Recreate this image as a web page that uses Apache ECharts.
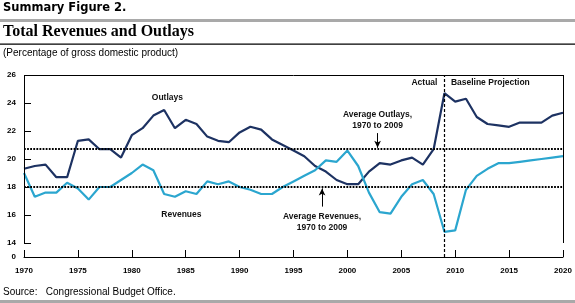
<!DOCTYPE html>
<html>
<head>
<meta charset="utf-8">
<script src="https://cdn.jsdelivr.net/npm/echarts@6/dist/echarts.min.js"></script>
<style>
  html, body { margin: 0; padding: 0; background: #fff; }
  #chart { width: 575px; height: 303px; }
</style>
</head>
<body>
<div id="chart"></div>
<script>
// 年份 与 两条序列 (占GDP百分比)
const years = [];
for (let y = 1970; y <= 2020; y++) years.push(y);
const outlays = [
  19.3, 19.5, 19.6, 18.7, 18.7, 21.3, 21.4, 20.7, 20.7, 20.1,
  21.7, 22.2, 23.1, 23.5, 22.2, 22.8, 22.5, 21.6, 21.3, 21.2,
  21.9, 22.3, 22.1, 21.4, 21.0, 20.6, 20.2, 19.5, 19.1, 18.5,
  18.2, 18.2, 19.1, 19.7, 19.6, 19.9, 20.1, 19.6, 20.7, 24.7,
  24.1, 24.3, 23.0, 22.5, 22.4, 22.3, 22.6, 22.6, 22.6, 23.1, 23.3
];
const revenues = [
  19.0, 17.3, 17.6, 17.6, 18.3, 17.9, 17.1, 18.0, 18.0, 18.5,
  19.0, 19.6, 19.2, 17.5, 17.3, 17.7, 17.5, 18.4, 18.2, 18.4,
  18.0, 17.8, 17.5, 17.5, 18.0, 18.4, 18.8, 19.2, 19.9, 19.8,
  20.6, 19.5, 17.6, 16.2, 16.1, 17.3, 18.2, 18.5, 17.5, 14.8,
  14.9, 17.8, 18.8, 19.3, 19.7, 19.7, 19.8, 19.9, 20.0, 20.1, 20.2
];
const avgOutlays = 20.7;
const avgRevenues = 18.0;
const yTickLabels = [13, 14, 16, 18, 20, 22, 24, 26];

const chart = echarts.init(document.getElementById('chart'), null, { renderer: 'canvas' });

const pair = (arr) => years.map((y, i) => [y, arr[i]]);
const txt = {
  fontFamily: 'Liberation Sans, Arial, sans-serif',
  fontWeight: 'bold',
  fontSize: 8.5,
  color: '#111',
  lineHeight: 11
};
const dotted = { color: '#000', width: 1.8, type: [1.8, 1.3] };
const solid = { color: '#000', width: 1, type: 'solid' };

const option = {
  animation: false,
  grid: { left: 24, right: 12, top: 75, bottom: 46 },
  xAxis: {
    type: 'value',
    min: 1970,
    max: 2020,
    interval: 5,
    axisLine: { lineStyle: { color: '#000', width: 1 } },
    axisTick: { inside: true, length: 7, lineStyle: { color: '#000' } },
    axisLabel: {
      margin: 10,
      color: '#000',
      fontFamily: 'Liberation Sans, Arial, sans-serif',
      fontWeight: 'bold',
      fontSize: 8,
      formatter: (v) => String(v)
    },
    splitLine: { show: false }
  },
  yAxis: {
    type: 'value',
    min: 13,
    max: 26,
    interval: 1,
    axisLine: { show: false },
    axisTick: {
      show: true, inside: true, length: 7,
      customValues: [14, 16, 18, 20, 22, 24],
      lineStyle: { color: '#000' }
    },
    axisLabel: {
      customValues: yTickLabels,
      margin: 8,
      color: '#000',
      fontFamily: 'Liberation Sans, Arial, sans-serif',
      fontWeight: 'bold',
      fontSize: 8,
      formatter: (v) => (v === 13 ? '0' : String(v))
    },
    splitLine: { show: false }
  },
  series: [
    {
      name: 'Outlays',
      type: 'line',
      data: pair(outlays),
      symbol: 'none',
      lineStyle: { color: '#1d3262', width: 2.2 },
      z: 3,
      markLine: {
        silent: true,
        symbol: 'none',
        label: { show: false },
        data: [
          [{ coord: [1970, avgOutlays], lineStyle: dotted }, { coord: [2020, avgOutlays] }],
          [{ coord: [1970, avgRevenues], lineStyle: dotted }, { coord: [2020, avgRevenues] }],
          [{ coord: [2009, 13], lineStyle: { color: '#000', width: 1.2, type: [3, 2] } }, { coord: [2009, 26] }],
          [{ coord: [1970, 14], lineStyle: solid }, { coord: [1970, 26] }],
          [{ coord: [2020, 14], lineStyle: solid }, { coord: [2020, 26] }],
          [{ coord: [1970, 26], lineStyle: solid }, { coord: [2020, 26] }],
          // 箭头
          [{ coord: [2002.8, 21.85], lineStyle: solid, symbol: 'none' },
           { coord: [2002.8, 20.8], symbol: 'arrow', symbolSize: [5, 7] }],
          [{ coord: [1997.65, 16.6], lineStyle: solid, symbol: 'none' },
           { coord: [1997.65, 17.9], symbol: 'arrow', symbolSize: [5, 7] }]
        ]
      }
    },
    {
      name: 'Revenues',
      type: 'line',
      data: pair(revenues),
      symbol: 'none',
      lineStyle: { color: '#2ba6cf', width: 2.2 },
      z: 3,
      markPoint: {
        silent: true,
        symbol: 'circle',
        symbolSize: 0,
        label: Object.assign({ show: true, position: 'inside' }, txt),
        data: [
          { coord: [1983.3, 24.36], label: { formatter: 'Outlays' } },
          { coord: [1984.6, 16.0], label: { formatter: 'Revenues' } },
          { coord: [2002.8, 22.81], label: { formatter: 'Average Outlays,\n1970 to 2009', align: 'center' } },
          { coord: [1997.65, 15.49], label: { formatter: 'Average Revenues,\n1970 to 2009', align: 'center' } },
          { coord: [2008.35, 25.43], label: { formatter: 'Actual', align: 'right' } },
          { coord: [2009.6, 25.43], label: { formatter: 'Baseline Projection', align: 'left' } }
        ]
      }
    }
  ],
  graphic: [
    {
      type: 'text', left: 3, top: 2,
      style: { text: 'Summary Figure 2.', fontFamily: 'DejaVu Sans, Arial, sans-serif', fontWeight: 'bold', fontSize: 11.5, fill: '#000' }
    },
    { type: 'rect', shape: { x: 0, y: 19, width: 575, height: 3 }, style: { fill: '#a9a9a9' } },
    {
      type: 'text', left: 3, top: 24,
      style: { text: 'Total Revenues and Outlays', fontFamily: 'Liberation Serif, Times New Roman, serif', fontWeight: 'bold', fontSize: 16, fill: '#000' }
    },
    { type: 'rect', shape: { x: 0, y: 43.5, width: 575, height: 1.2 }, style: { fill: '#000' } },
    {
      type: 'text', left: 3, top: 48,
      style: { text: '(Percentage of gross domestic product)', fontFamily: 'Liberation Sans, Arial, sans-serif', fontSize: 10, fill: '#000' }
    },
    {
      type: 'text', left: 3, top: 287,
      style: { text: 'Source:   Congressional Budget Office.', fontFamily: 'Liberation Sans, Arial, sans-serif', fontSize: 10, fill: '#000' }
    },
    { type: 'rect', shape: { x: 0, y: 300, width: 575, height: 3 }, style: { fill: '#a9a9a9' } }
  ]
};

chart.setOption(option);
</script>
</body>
</html>
